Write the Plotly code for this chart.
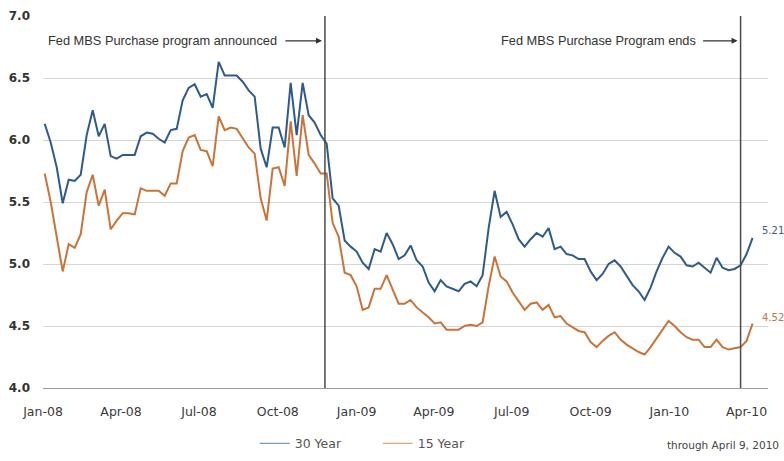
import pandas as pd
import plotly.graph_objects as go

# Weekly mortgage rates (%), Thursdays from 3 Jan 2008 through 8 Apr 2010
first_week = "2008-01-03"

rate_30yr = [
    # 2008
    6.13, 5.98, 5.78, 5.49, 5.68, 5.67, 5.72, 6.04, 6.24, 6.03, 6.13, 5.87, 5.85,
    5.88, 5.88, 5.88, 6.03, 6.06, 6.05, 6.01, 5.98, 6.08, 6.09, 6.32, 6.42, 6.45,
    6.35, 6.37, 6.26, 6.63, 6.52, 6.52, 6.52, 6.47, 6.40, 6.35, 5.93, 5.78, 6.10,
    6.10, 5.94, 6.46, 6.04, 6.46, 6.20, 6.14, 6.04, 5.97, 5.53, 5.47, 5.19, 5.14,
    # 2009
    5.10, 5.01, 4.96, 5.12, 5.10, 5.25, 5.16, 5.04, 5.07, 5.15, 5.03, 4.98, 4.85,
    4.78, 4.87, 4.82, 4.80, 4.78, 4.84, 4.86, 4.82, 4.91, 5.29, 5.59, 5.38, 5.42,
    5.32, 5.20, 5.14, 5.20, 5.25, 5.22, 5.29, 5.12, 5.14, 5.08, 5.07, 5.04, 5.04,
    4.94, 4.87, 4.92, 5.00, 5.03, 4.98, 4.91, 4.83, 4.78, 4.71, 4.81, 4.94, 5.05,
    5.14,
    # 2010
    5.09, 5.06, 4.99, 4.98, 5.01, 4.97, 4.93, 5.05, 4.97, 4.95, 4.96, 4.99, 5.08,
    5.21,
]

rate_15yr = [
    # 2008
    5.73, 5.50, 5.22, 4.94, 5.16, 5.13, 5.24, 5.58, 5.72, 5.47, 5.60, 5.28, 5.35,
    5.41, 5.41, 5.40, 5.61, 5.59, 5.59, 5.59, 5.55, 5.65, 5.65, 5.91, 6.02, 6.04,
    5.92, 5.91, 5.79, 6.19, 6.08, 6.10, 6.09, 6.01, 5.94, 5.89, 5.53, 5.35, 5.77,
    5.78, 5.63, 6.15, 5.71, 6.20, 5.88, 5.81, 5.73, 5.73, 5.33, 5.22, 4.93, 4.91,
    # 2009
    4.82, 4.63, 4.65, 4.80, 4.80, 4.91, 4.79, 4.68, 4.68, 4.71, 4.65, 4.61, 4.57,
    4.52, 4.53, 4.47, 4.47, 4.47, 4.50, 4.51, 4.50, 4.53, 4.82, 5.06, 4.90, 4.86,
    4.77, 4.70, 4.63, 4.68, 4.69, 4.63, 4.67, 4.57, 4.58, 4.52, 4.49, 4.46, 4.45,
    4.37, 4.33, 4.38, 4.42, 4.45, 4.39, 4.35, 4.32, 4.29, 4.27, 4.33, 4.40, 4.47,
    4.54,
    # 2010
    4.50, 4.45, 4.41, 4.39, 4.39, 4.33, 4.33, 4.39, 4.33, 4.31, 4.32, 4.33, 4.38,
    4.52,
]

tick_dates = ["2008-01-01", "2008-04-01", "2008-07-01", "2008-10-01", "2009-01-01",
              "2009-04-01", "2009-07-01", "2009-10-01", "2010-01-01", "2010-04-01"]
tick_labels = ["Jan-08", "Apr-08", "Jul-08", "Oct-08", "Jan-09",
               "Apr-09", "Jul-09", "Oct-09", "Jan-10", "Apr-10"]

program_announced = "2008-11-25"
program_ends = "2010-03-25"

weeks = pd.date_range(first_week, periods=len(rate_30yr), freq="7D")

BLUE = "#2f5b8c"
ORANGE = "#c8743a"
FONT = "DejaVu Sans"

fig = go.Figure()
fig.add_trace(go.Scatter(x=weeks, y=rate_30yr, mode="lines", name="30 Year",
                         line=dict(color=BLUE, width=2), showlegend=False))
fig.add_trace(go.Scatter(x=weeks, y=rate_15yr, mode="lines", name="15 Year",
                         line=dict(color=ORANGE, width=2), showlegend=False))

# Legend entries drawn with thin, light key lines
fig.add_trace(go.Scatter(x=[None], y=[None], mode="lines", name="30 Year",
                         line=dict(color="#7a9cbc", width=1.3)))
fig.add_trace(go.Scatter(x=[None], y=[None], mode="lines", name="15 Year",
                         line=dict(color="#e0a878", width=1.3)))

# Program start / end markers
for d in (program_announced, program_ends):
    fig.add_shape(type="line", xref="x", yref="paper", x0=d, x1=d, y0=0, y1=1,
                  line=dict(color="#4a4a4a", width=1.5))

ann_font = dict(family="Liberation Sans", size=12.8, color="#333333")
fig.add_annotation(x=program_announced, y=6.80, text="Fed MBS Purchase program announced",
                   showarrow=False, xanchor="right", xshift=-46, font=ann_font)
fig.add_annotation(x=program_announced, y=6.80, text="", showarrow=True,
                   ax=-41, ay=0, arrowhead=2, arrowsize=1, arrowwidth=1.2,
                   arrowcolor="#333333", standoff=3)
fig.add_annotation(x=program_ends, y=6.80, text="Fed MBS Purchase Program ends",
                   showarrow=False, xanchor="right", xshift=-43, font=ann_font)
fig.add_annotation(x=program_ends, y=6.80, text="", showarrow=True,
                   ax=-39, ay=0, arrowhead=2, arrowsize=1, arrowwidth=1.2,
                   arrowcolor="#333333", standoff=3)

# Latest values
fig.add_annotation(x=weeks[-1], y=rate_30yr[-1], text=f"{rate_30yr[-1]:.2f}",
                   showarrow=False, xanchor="left", xshift=7, yshift=7,
                   font=dict(family=FONT, size=10, color="#4a5a78"))
fig.add_annotation(x=weeks[-1], y=rate_15yr[-1], text=f"{rate_15yr[-1]:.2f}",
                   showarrow=False, xanchor="left", xshift=7, yshift=6,
                   font=dict(family=FONT, size=10, color="#b47a4a"))

fig.add_annotation(xref="paper", yref="paper", x=1.018, y=-0.175,
                   text="through April 9, 2010", showarrow=False, xanchor="right",
                   font=dict(family=FONT, size=10.5, color="#444444"))

fig.update_layout(
    width=784, height=461,
    margin=dict(l=43, r=16, t=16, b=73, autoexpand=False),
    plot_bgcolor="white", paper_bgcolor="white",
    font=dict(family=FONT, size=12.5, color="#333333"),
    showlegend=True,
    legend=dict(orientation="h", x=0.292, y=-0.15, xanchor="left", yanchor="middle",
                font=dict(family=FONT, size=12.5, color="#555555"),
                entrywidth=78, itemwidth=30, bgcolor="rgba(0,0,0,0)"),
)
fig.update_xaxes(
    type="date", range=["2008-01-01", "2010-04-26"],
    tickvals=tick_dates, ticktext=tick_labels,
    showgrid=False, showline=True, linecolor="#9a9a9a", linewidth=1,
    ticks="", ticklabelstandoff=12,
    tickfont=dict(family=FONT, size=12.5, color="#3a3a3a"),
)
fig.update_yaxes(
    range=[4.0, 7.0], tickvals=[4.0, 4.5, 5.0, 5.5, 6.0, 6.5, 7.0],
    ticktext=["4.0", "4.5", "5.0", "5.5", "6.0", "6.5", "7.0"],
    showgrid=True, gridcolor="#d6d6d6", gridwidth=1, zeroline=False,
    showline=False, ticks="", ticklabelstandoff=12,
    tickfont=dict(family=FONT, size=12, color="#333333", weight="bold"),
)

fig.write_html("out.html")
